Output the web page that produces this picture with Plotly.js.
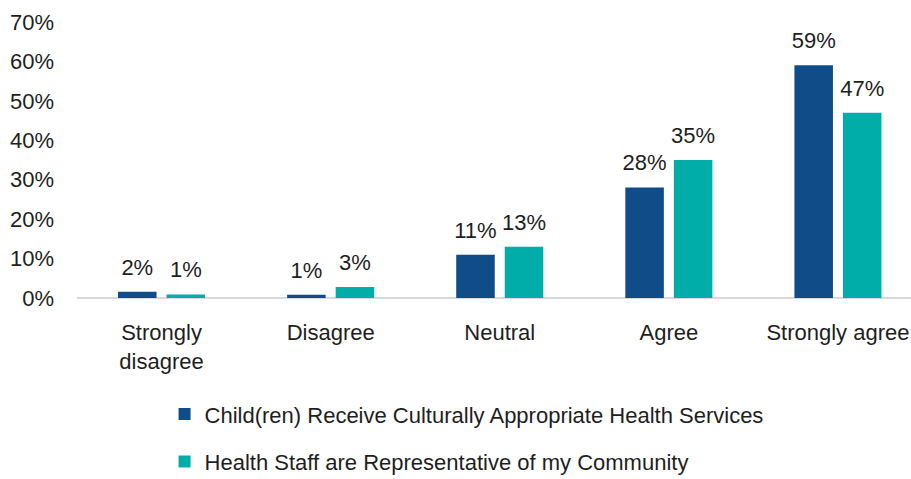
<!DOCTYPE html>
<html>
<head>
<meta charset="utf-8">
<script src="https://cdn.plot.ly/plotly-3.0.1.min.js"></script>
<style>html,body{margin:0;padding:0;background:#fff;}</style>
</head>
<body>
<div id="chart" style="width:911px;height:479px;"></div>
<script>
const categories = ["Strongly<br>disagree", "Disagree", "Neutral", "Agree", "Strongly agree"];
const seriesNames = ["Child(ren) Receive Culturally Appropriate Health Services", "Health Staff are Representative of my Community"];
const childValues = [1.6, 0.8, 11, 28, 59];
const staffValues = [0.9, 2.8, 13, 35, 47];
const yTickVals = [0, 10, 20, 30, 40, 50, 60, 70];
const yTickText = ["0%", "10%", "20%", "30%", "40%", "50%", "60%", "70%"];

const FONT = "Liberation Sans, Arial, sans-serif";
const TXT = "#1e1e1e";
const FS = 22;
const colors = ["#0F4C88", "#00ADA8"];
const series = [childValues, staffValues];

const traces = [];
series.forEach((vals, i) => {
  traces.push({type: "bar", name: seriesNames[i], x: categories, y: vals,
    marker: {color: colors[i]}, legendgroup: "g" + i, hoverinfo: "skip"});
});
series.forEach((vals, i) => {
  traces.push({type: "scatter", mode: "markers+text", x: categories, y: vals,
    marker: {size: 17, opacity: 0, color: colors[i]}, texttemplate: "%{y:.0f}%", textposition: "top center",
    textfont: {family: FONT, size: FS, color: TXT}, cliponaxis: false, showlegend: false, hoverinfo: "skip"});
});

const layout = {
  width: 911, height: 479,
  margin: {l: 77, r: 0, t: 22, b: 181, autoexpand: false},
  paper_bgcolor: "#fff", plot_bgcolor: "#fff",
  font: {family: FONT, size: FS, color: TXT},
  barmode: "group", bargap: 0.426, bargroupgap: 0.206,
  scattermode: "group", scattergap: 0.426,
  showlegend: true,
  legend: {orientation: "v", x: 0.105, xanchor: "left", y: -0.345, yanchor: "top",
           font: {family: FONT, size: FS, color: TXT}, traceorder: "grouped", tracegroupgap: 16},
  xaxis: {range: [-0.5, 4.432], showgrid: false, zeroline: false, showline: false,
          ticks: "", tickfont: {family: FONT, size: FS, color: TXT}, ticklabelstandoff: 19, fixedrange: true},
  yaxis: {range: [0, 70], tickvals: yTickVals, ticktext: yTickText, showgrid: false,
          zeroline: true, zerolinecolor: "#D9D9D9", zerolinewidth: 1.5, showline: false,
          ticks: "", tickfont: {family: FONT, size: FS, color: TXT}, ticklabelstandoff: 22, fixedrange: true}
};

Plotly.newPlot("chart", traces, layout, {displayModeBar: false, staticPlot: true});
</script>
</body>
</html>
